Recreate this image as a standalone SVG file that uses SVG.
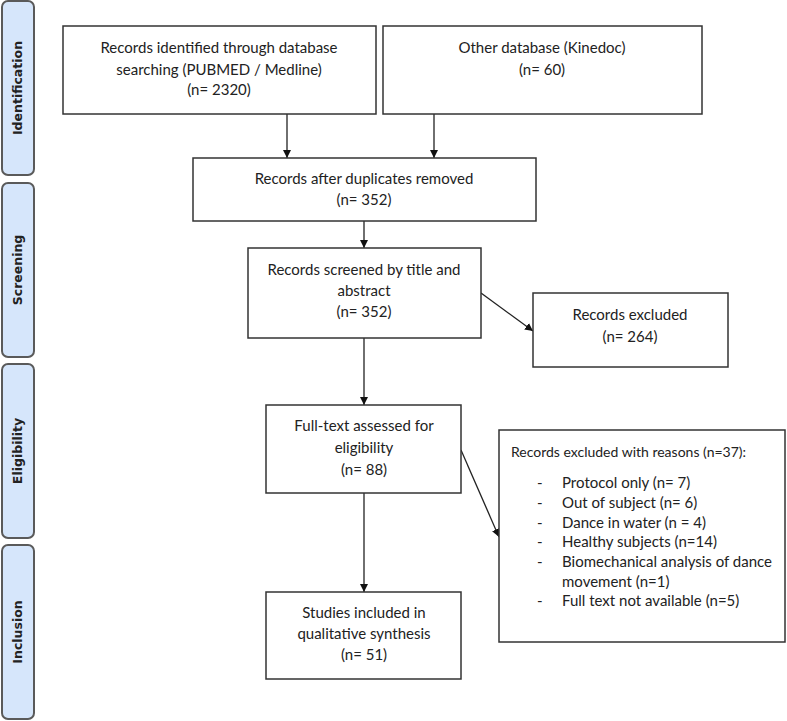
<svg xmlns="http://www.w3.org/2000/svg" width="787" height="721" viewBox="0 0 787 721">
<style>
.side{fill:#d6e6fb;stroke:#5a5a5a;stroke-width:2}
.st{font-family:"DejaVu Sans",sans-serif;font-weight:bold;font-size:12.5px;fill:#222;text-anchor:middle}
.box{fill:#fff;stroke:#333;stroke-width:1.5}
.t{font-family:Lato,"Liberation Sans",sans-serif;font-size:15px;fill:#222;text-anchor:middle}
.l{font-family:Lato,"Liberation Sans",sans-serif;font-size:15px;fill:#222}
.h{font-size:14px}
.c{stroke:#222;stroke-width:1.3;fill:none;marker-end:url(#ah)}
</style>
<defs>
<marker id="ah" viewBox="0 0 10 10" refX="10" refY="5" markerWidth="8" markerHeight="8" markerUnits="userSpaceOnUse" orient="auto">
<path d="M0,0 L10,5 L0,10 z" fill="#111"/>
</marker>
</defs>
<rect width="787" height="721" fill="#fff"/>
<g id="stage-identification">
<rect class="side" x="2" y="1" width="32" height="174" rx="6"/>
<text class="st" transform="translate(22,88) rotate(-90)">Identification</text>
</g>
<g id="stage-screening">
<rect class="side" x="2" y="183" width="32" height="174" rx="6"/>
<text class="st" transform="translate(22,270) rotate(-90)">Screening</text>
</g>
<g id="stage-eligibility">
<rect class="side" x="2" y="364" width="32" height="174" rx="6"/>
<text class="st" transform="translate(22,451) rotate(-90)">Eligibility</text>
</g>
<g id="stage-inclusion">
<rect class="side" x="2" y="545" width="32" height="174" rx="6"/>
<text class="st" transform="translate(22,632) rotate(-90)">Inclusion</text>
</g>
<g id="connectors">
<line class="c" x1="287" y1="114" x2="287" y2="158"/>
<line class="c" x1="434" y1="114" x2="434" y2="158"/>
<line class="c" x1="364" y1="221" x2="364" y2="248"/>
<line class="c" x1="481" y1="293" x2="533" y2="331"/>
<line class="c" x1="364" y1="338" x2="364" y2="405"/>
<line class="c" x1="461" y1="450" x2="499" y2="537"/>
<line class="c" x1="364" y1="493" x2="364" y2="592"/>
</g>
<g id="n-db">
<rect class="box" x="63" y="26" width="313" height="88"/>
<text class="t" x="219" y="53">Records identified through database</text>
<text class="t" x="219" y="75">searching (PUBMED / Medline)</text>
<text class="t" x="219" y="95">(n= 2320)</text>
</g>
<g id="n-other">
<rect class="box" x="383" y="26" width="319" height="88"/>
<text class="t" x="542" y="53">Other database (Kinedoc)</text>
<text class="t" x="542" y="75">(n= 60)</text>
</g>
<g id="n-dup">
<rect class="box" x="193" y="158" width="343" height="63"/>
<text class="t" x="364" y="184">Records after duplicates removed</text>
<text class="t" x="364" y="205">(n=  352)</text>
</g>
<g id="n-screen">
<rect class="box" x="248" y="248" width="233" height="90"/>
<text class="t" x="364" y="275">Records screened by title and</text>
<text class="t" x="364" y="296">abstract</text>
<text class="t" x="364" y="317">(n=  352)</text>
</g>
<g id="n-excl">
<rect class="box" x="533" y="293" width="195" height="74"/>
<text class="t" x="630" y="320">Records excluded</text>
<text class="t" x="630" y="342">(n=  264)</text>
</g>
<g id="n-full">
<rect class="box" x="266" y="405" width="195" height="88"/>
<text class="t" x="364" y="431">Full-text assessed for</text>
<text class="t" x="364" y="453">eligibility</text>
<text class="t" x="364" y="475">(n= 88)</text>
</g>
<g id="n-reasons">
<rect class="box" x="499" y="430" width="286" height="212"/>
<text class="l h" x="511" y="457">Records excluded with reasons (n=37):</text>
<text class="l" x="537" y="488">-</text><text class="l" x="562" y="488">Protocol only (n= 7)</text>
<text class="l" x="537" y="508">-</text><text class="l" x="562" y="508">Out of subject (n= 6)</text>
<text class="l" x="537" y="528">-</text><text class="l" x="562" y="528">Dance in water (n = 4)</text>
<text class="l" x="537" y="547">-</text><text class="l" x="562" y="547">Healthy subjects (n=14)</text>
<text class="l" x="537" y="567">-</text><text class="l" x="562" y="567">Biomechanical analysis of dance</text>
<text class="l" x="562" y="587">movement (n=1)</text>
<text class="l" x="537" y="606">-</text><text class="l" x="562" y="606">Full text not available (n=5)</text>
</g>
<g id="n-incl">
<rect class="box" x="266" y="592" width="195" height="87"/>
<text class="t" x="364" y="618">Studies included in</text>
<text class="t" x="364" y="639">qualitative synthesis</text>
<text class="t" x="364" y="660">(n= 51)</text>
</g>
</svg>
